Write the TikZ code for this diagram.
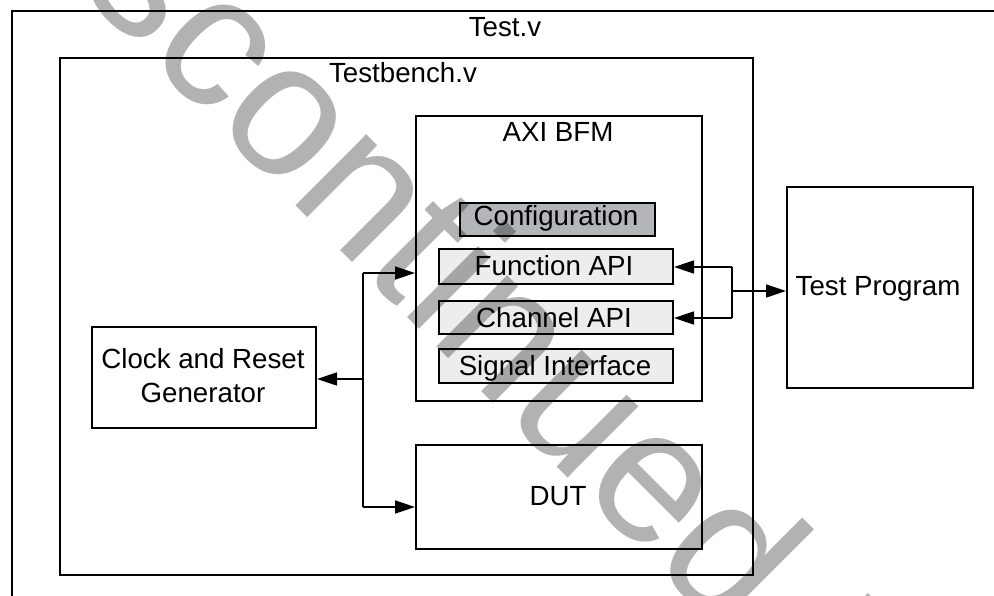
\documentclass[tikz,border=0pt]{standalone}
\usepackage{fontspec}
\setmainfont{Liberation Sans}
\usetikzlibrary{arrows.meta}
\definecolor{cfgfill}{HTML}{B2B6B9}
\definecolor{apifill}{HTML}{EDEDED}
\begin{document}
\begin{tikzpicture}[x=1pt,y=-1pt,
  box/.style={draw=black, line width=2pt, rectangle, inner sep=0pt, anchor=north west},
  lab/.style={font=\fontsize{27.7}{34}\selectfont, inner sep=0pt, anchor=base, align=center},
  wire/.style={line width=1.5pt},
  arr/.style={line width=1.5pt, -{Triangle[length=20pt,width=13pt]}},
  wmark/.style={anchor=base west, rotate=-45, inner sep=0pt, text=black, text opacity=0.3, font=\fontsize{190}{190}\selectfont}
]
\useasboundingbox (0,0) rectangle (994,596);
\clip (0,0) rectangle (994,596);
\fill[white] (0,0) rectangle (994,596);

% boxes
\node[box, minimum width=1000pt, minimum height=620pt] (outer) at (11,10) {};
\node[box, minimum width=693pt, minimum height=517pt] (tb) at (59,57) {};
\node[box, minimum width=286pt, minimum height=285pt] (axi) at (415,115) {};
\node[box, fill=cfgfill, minimum width=195pt, minimum height=33pt] (cfg) at (459,202) {};
\node[box, fill=apifill, minimum width=234pt, minimum height=35pt] (fapi) at (438,248) {};
\node[box, fill=apifill, minimum width=234pt, minimum height=33pt] (capi) at (438,300) {};
\node[box, fill=apifill, minimum width=234pt, minimum height=34pt] (sig) at (438,348) {};
\node[box, minimum width=286pt, minimum height=104pt] (dut) at (415,444) {};
\node[box, minimum width=224pt, minimum height=101pt] (clk) at (91,326) {};
\node[box, minimum width=186pt, minimum height=201pt] (tp) at (786,186) {};

% labels
\node[lab] (ltest) at (505,37) {Test.v};
\node[lab] (ltb) at (403,83) {Testbench.v};
\node[lab] (laxi) at (558,142) {AXI BFM};
\node[lab] (lcfg) at (556,226) {Configuration};
\node[lab] (lfapi) at (554,275.5) {Function API};
\node[lab] (lcapi) at (554,327) {Channel API};
\node[lab] (lsig) at (555,375) {Signal Interface};
\node[lab] (lclk) at (203,402) {Clock and Reset\\Generator};
\node[lab] (ldut) at (558,505) {DUT};
\node[lab] (ltp) at (878,295) {Test Program};

% left bus
\coordinate (b1) at (363,273);
\coordinate (b2) at (363,379);
\coordinate (b3) at (363,507);
\draw[wire] (b1) -- (b3);
\draw[arr] (b1) -- (b1 -| axi.west);
\draw[arr] (b2) -- (b2 -| clk.east);
\draw[arr] (b3) -- (b3 -| dut.west);

% right bus
\coordinate (r1) at (732,267);
\coordinate (r2) at (732,318);
\coordinate (r3) at (732,291);
\draw[wire] (r1) -- (r2);
\draw[arr] (r1) -- (r1 -| fapi.east);
\draw[arr] (r2) -- (r2 -| capi.east);
\draw[arr] (r3) -- (r3 -| tp.west);

% watermark
\node[wmark] (wm) at (-50,-140) {Discontinued IP};
\end{tikzpicture}
\end{document}
